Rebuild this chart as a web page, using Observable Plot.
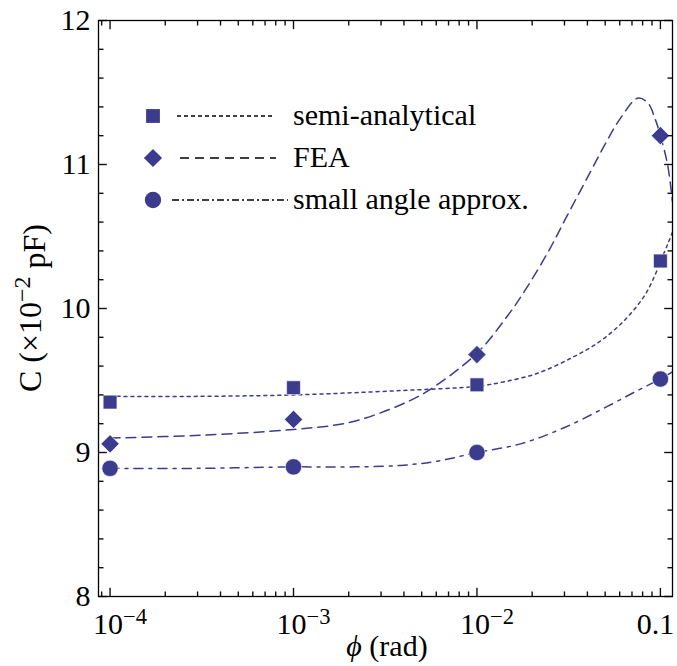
<!DOCTYPE html>
<html><head><meta charset="utf-8">
<script src="https://cdn.jsdelivr.net/npm/d3@7"></script>
<script src="https://cdn.jsdelivr.net/npm/@observablehq/plot@0.6"></script>
<style>
body{margin:0;background:#fff;}
#wrap{position:relative;width:677px;height:666px;font-family:"Liberation Serif",serif;}
#wrap svg.overlay{position:absolute;left:0;top:0;pointer-events:none;}
</style></head><body><div id="wrap"></div>
<script>
// measured points
const phiPoints = [1e-4, 1e-3, 1e-2, 0.1];
const semiPoints = [9.35, 9.45, 9.47, 10.33];
const feaPoints = [9.06, 9.23, 9.68, 11.20];
const smallPoints = [8.89, 8.90, 9.00, 9.51];

// curves
const semiCurvePhi = [1e-4, 3.1e-4, 1e-3, 3.82e-3, 1e-2, 1.39e-2, 2.14e-2, 3.31e-2, 4.54e-2, 5.83e-2, 7.05e-2, 8.3e-2, 9.4e-2, 0.1026, 0.1107, 0.1164];
const semiCurveC   = [9.39, 9.39, 9.40, 9.43, 9.46, 9.49, 9.55, 9.66, 9.76, 9.87, 9.98, 10.10, 10.24, 10.36, 10.46, 10.53];
const feaCurvePhi = [1e-4, 3.1e-4, 1e-3, 2.04e-3, 3.82e-3, 5.43e-3, 1e-2, 1.47e-2, 1.88e-2, 2.51e-2, 3.03e-2, 4.16e-2, 5.14e-2, 6.05e-2, 7.5e-2, 8.51e-2, 9.4e-2, 0.1, 0.1094, 0.1164];
const feaCurveC   = [9.10, 9.12, 9.16, 9.21, 9.33, 9.43, 9.69, 9.95, 10.15, 10.42, 10.62, 10.95, 11.17, 11.32, 11.46, 11.43, 11.31, 11.20, 11.00, 10.74];
const smallCurvePhi = [1e-4, 3.1e-4, 1e-3, 2.04e-3, 3.82e-3, 6.08e-3, 1e-2, 1.73e-2, 2.96e-2, 5.14e-2, 7.5e-2, 0.1, 0.1164];
const smallCurveC   = [8.89, 8.89, 8.90, 8.90, 8.91, 8.94, 9.00, 9.06, 9.17, 9.32, 9.43, 9.51, 9.56];

// ticks
const xMajor = [1e-4, 1e-3, 1e-2, 0.1];
const xTickBase = ["10", "10", "10", "0.1"];
const xTickExp = ["\u22124", "\u22123", "\u22122", ""];
const xMinor = [9e-5, 2e-4, 3e-4, 4e-4, 5e-4, 6e-4, 7e-4, 8e-4, 9e-4,
  2e-3, 3e-3, 4e-3, 5e-3, 6e-3, 7e-3, 8e-3, 9e-3,
  2e-2, 3e-2, 4e-2, 5e-2, 6e-2, 7e-2, 8e-2, 9e-2];
const yMajor = [8, 9, 10, 11, 12];
const yMinor = [8.2, 8.4, 8.6, 8.8, 9.2, 9.4, 9.6, 9.8, 10.2, 10.4, 10.6, 10.8, 11.2, 11.4, 11.6, 11.8];

// legend
const legendLabels = ["semi-analytical", "FEA", "small angle approx."];
const legendSymbols = ["square", "diamond2", "circle"];
const legendR = [7.8, 8.2, 8.2];
const curveDash = ["3,4", "10,6", "9,6,3,6"];
const legendDash = ["4,3", "9,6", "7,3,2,3"];

const color = "#3c3c8e";
const tickColor = "#111";
const font = "'Liberation Serif', serif";

// axis extent and inward tick lengths (in data units)
const xDom = [8.65e-5, 0.1164];
const yDom = [8, 12];
const yTickMaj = 0.06, yTickMin = 0.035;
const xTickMaj = 1.11, xTickMin = 1.065;

const rows = (xs, ys) => xs.map((x, i) => ({x, y: ys[i]}));
const tickRowsX = (vals, y1, y2) => vals.map(v => ({x: v, y1, y2}));
const tickRowsY = (vals, x1, x2) => vals.map(v => ({y: v, x1, x2}));
const tk = {stroke: tickColor, strokeWidth: 1.4};

const plot = Plot.plot({
  width: 677, height: 666,
  marginLeft: 98, marginRight: 5, marginTop: 20, marginBottom: 70,
  style: {fontFamily: font, fontSize: "30px", color: "black", background: "white"},
  x: {type: "log", domain: xDom},
  y: {domain: yDom},
  marks: [
    Plot.line(rows(semiCurvePhi, semiCurveC), {x: "x", y: "y", stroke: color, strokeWidth: 1.5, strokeDasharray: curveDash[0], curve: "catmull-rom", clip: true}),
    Plot.line(rows(feaCurvePhi, feaCurveC), {x: "x", y: "y", stroke: color, strokeWidth: 1.5, strokeDasharray: curveDash[1], curve: "catmull-rom", clip: true}),
    Plot.line(rows(smallCurvePhi, smallCurveC), {x: "x", y: "y", stroke: color, strokeWidth: 1.5, strokeDasharray: curveDash[2], curve: "catmull-rom", clip: true}),
    Plot.dot(rows(phiPoints, semiPoints), {x: "x", y: "y", symbol: legendSymbols[0], r: legendR[0], fill: color, stroke: "white", strokeWidth: 0.6}),
    Plot.dot(rows(phiPoints, feaPoints), {x: "x", y: "y", symbol: legendSymbols[1], r: legendR[1], fill: color, stroke: "white", strokeWidth: 0.6}),
    Plot.dot(rows(phiPoints, smallPoints), {x: "x", y: "y", symbol: legendSymbols[2], r: legendR[2], fill: color, stroke: "white", strokeWidth: 0.6}),
    // inward ticks on all four sides
    Plot.link(tickRowsX(xMajor, yDom[0], yDom[0] + yTickMaj), {x1: "x", x2: "x", y1: "y1", y2: "y2", ...tk}),
    Plot.link(tickRowsX(xMinor, yDom[0], yDom[0] + yTickMin), {x1: "x", x2: "x", y1: "y1", y2: "y2", ...tk}),
    Plot.link(tickRowsX(xMajor, yDom[1] - yTickMaj, yDom[1]), {x1: "x", x2: "x", y1: "y1", y2: "y2", ...tk}),
    Plot.link(tickRowsX(xMinor, yDom[1] - yTickMin, yDom[1]), {x1: "x", x2: "x", y1: "y1", y2: "y2", ...tk}),
    Plot.link(tickRowsY(yMajor, xDom[0], xDom[0] * xTickMaj), {y1: "y", y2: "y", x1: "x1", x2: "x2", ...tk}),
    Plot.link(tickRowsY(yMinor, xDom[0], xDom[0] * xTickMin), {y1: "y", y2: "y", x1: "x1", x2: "x2", ...tk}),
    Plot.link(tickRowsY(yMajor, xDom[1] / xTickMaj, xDom[1]), {y1: "y", y2: "y", x1: "x1", x2: "x2", ...tk}),
    Plot.link(tickRowsY(yMinor, xDom[1] / xTickMin, xDom[1]), {y1: "y", y2: "y", x1: "x1", x2: "x2", ...tk}),
    // tick labels
    Plot.axisX(xMajor, {anchor: "bottom", tickSize: 0, tickPadding: 16, label: null,
      tickFormat: d => { const i = xMajor.indexOf(d); return xTickBase[i] + "^" + xTickExp[i]; }}),
    Plot.axisY(yMajor, {anchor: "left", tickSize: 0, tickPadding: 8, label: null, tickFormat: d => String(d)}),
    Plot.frame({stroke: "black", strokeWidth: 1.3})
  ]
});

const wrap = document.getElementById("wrap");
wrap.appendChild(plot);
const svg = d3.select(plot);

// superscripts in x tick labels
svg.selectAll('g[aria-label="x-axis tick label"] text').each(function() {
  const t = d3.select(this);
  const s = t.text();
  const [b, e] = s.split("^");
  t.text(null);
  t.append("tspan").text(b);
  if (e) {
    t.append("tspan").attr("dy", "-0.45em").attr("font-size", "0.75em").text(e);
    t.attr("dx", 10);
  } else {
    t.attr("dx", -5);
  }
});

// axis labels
const xl = svg.append("text").attr("x", 387).attr("y", 656).attr("text-anchor", "middle")
  .attr("font-size", 30).attr("font-family", font);
xl.append("tspan").attr("font-style", "italic").text("\u03D5");
xl.append("tspan").text(" (rad)");
const yl = svg.append("text").attr("transform", "translate(41,308) rotate(-90)").attr("text-anchor", "middle")
  .attr("font-size", 32).attr("font-family", font);
yl.append("tspan").text("C (\u00D710");
yl.append("tspan").attr("dy", "-0.45em").attr("font-size", "0.75em").text("\u22122");
yl.append("tspan").attr("dy", "0.45em").text(" pF)");

// legend overlay
const ov = d3.select(wrap).append("svg").attr("class", "overlay").attr("width", 677).attr("height", 666);
const symMap = {square: d3.symbolSquare, diamond2: d3.symbolDiamond2, circle: d3.symbolCircle};
legendLabels.forEach((lab, i) => {
  const cy = 116 + i * 42;
  ov.append("path").attr("transform", `translate(153,${cy})`)
    .attr("d", d3.symbol(symMap[legendSymbols[i]], Math.PI * legendR[i] * legendR[i])())
    .attr("fill", color);
  const x1 = [177, 180, 172][i], x2 = [273, 276, 288][i];
  ov.append("line").attr("x1", x1).attr("x2", x2).attr("y1", cy).attr("y2", cy)
    .attr("stroke", "black").attr("stroke-width", 1.3).attr("stroke-dasharray", legendDash[i]);
  ov.append("text").attr("x", 293).attr("y", cy + 9).attr("font-size", 30).attr("font-family", font).text(lab);
});
</script></body></html>
